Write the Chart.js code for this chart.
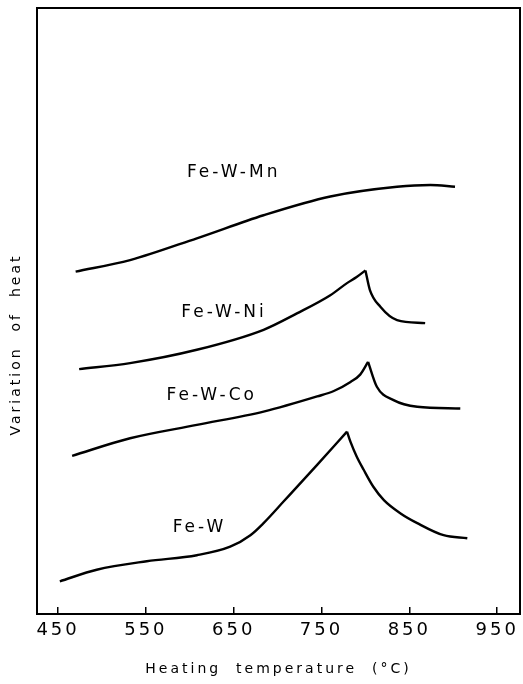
<!DOCTYPE html>
<html>
<head>
<meta charset="utf-8">
<script src="https://cdn.jsdelivr.net/npm/chart.js@4/dist/chart.umd.min.js"></script>
<style>
  html, body { margin: 0; padding: 0; background: #fff; }
  #wrap { width: 523px; height: 684px; }
</style>
</head>
<body>
<div id="wrap"><canvas id="c" width="523" height="684"></canvas></div>
<script>
// X tick labels (heating temperature, °C)
const tickValues = [450, 550, 650, 750, 850, 950];

// Fe-W-Mn (arbitrary "variation of heat" units, 0..100)
const mnX = [470, 532, 608, 684, 760, 836, 874, 902];
const mnY = [56.5, 58.4, 62.0, 65.8, 68.9, 70.5, 70.8, 70.5];

// Fe-W-Ni
const niRiseX = [474, 532, 608, 684, 722, 760, 779, 790, 800];
const niRiseY = [40.4, 41.4, 43.6, 46.9, 49.6, 52.6, 54.6, 55.6, 56.7];
const niFallX = [800, 805, 817, 836, 868];
const niFallY = [56.7, 53.5, 50.7, 48.5, 48.0];

// Fe-W-Co
const coRiseX = [466, 532, 608, 684, 745, 764, 783, 794, 803];
const coRiseY = [26.1, 29.0, 31.2, 33.4, 35.9, 36.8, 38.3, 39.5, 41.6];
const coFallX = [803, 813, 832, 859, 908];
const coFallY = [41.6, 37.5, 35.3, 34.2, 33.9];

// Fe-W
const feRiseX = [452, 494, 551, 608, 646, 669, 684, 707, 745, 779];
const feRiseY = [5.4, 7.3, 8.7, 9.7, 11.1, 13.0, 15.0, 18.6, 24.6, 30.1];
const feFallX = [779, 783, 790, 798, 809, 821, 840, 859, 889, 916];
const feFallY = [30.1, 28.4, 26.0, 23.8, 21.0, 18.8, 16.6, 15.0, 13.0, 12.5];

// Curve labels (placed in data coordinates)
const labelNames = ['Fe-W-Mn', 'Fe-W-Ni', 'Fe-W-Co', 'Fe-W'];
const labelX = [650, 639, 625, 611];
const labelY = [72.9, 49.7, 36.1, 14.2];

const xTitle = 'Heating  temperature  (°C)';
const yTitle = 'Variation  of  heat';

function pts(xs, ys) { return xs.map((x, i) => ({ x: x, y: ys[i] })); }
function ds(xs, ys) {
  return {
    data: pts(xs, ys),
    borderColor: '#000',
    borderWidth: 2.4,
    pointRadius: 0,
    fill: false,
    cubicInterpolationMode: 'monotone'
  };
}

const spacing = {
  id: 'spacing',
  beforeUpdate(chart) { chart.ctx.letterSpacing = '3px'; },
  beforeLayout(chart) { chart.ctx.letterSpacing = '3px'; },
  beforeDraw(chart) { chart.ctx.letterSpacing = '3px'; }
};

const frame = {
  id: 'frame',
  afterDatasetsDraw(chart) {
    const a = chart.chartArea, ctx = chart.ctx;
    ctx.save();
    ctx.strokeStyle = '#000';
    ctx.lineWidth = 2;
    ctx.strokeRect(a.left, a.top, a.right - a.left, a.bottom - a.top);
    ctx.restore();
  }
};

const curveLabels = {
  id: 'curveLabels',
  afterDatasetsDraw(chart) {
    const ctx = chart.ctx, xs = chart.scales.x, ys = chart.scales.y;
    ctx.save();
    ctx.letterSpacing = '3px';
    ctx.fillStyle = '#000';
    ctx.font = '17px "DejaVu Sans"';
    ctx.textAlign = 'center';
    ctx.textBaseline = 'middle';
    labelNames.forEach((t, i) => {
      ctx.fillText(t, xs.getPixelForValue(labelX[i]), ys.getPixelForValue(labelY[i]));
    });
    ctx.restore();
  }
};

new Chart(document.getElementById('c'), {
  type: 'line',
  data: {
    datasets: [
      ds(mnX, mnY),
      ds(niRiseX, niRiseY), ds(niFallX, niFallY),
      ds(coRiseX, coRiseY), ds(coFallX, coFallY),
      ds(feRiseX, feRiseY), ds(feFallX, feFallY)
    ]
  },
  options: {
    responsive: false,
    animation: false,
    devicePixelRatio: 1,
    layout: { padding: { top: 8, right: 3, left: 0, bottom: 0 } },
    plugins: { legend: { display: false }, tooltip: { enabled: false } },
    scales: {
      x: {
        type: 'linear',
        min: 426, max: 976,
        afterBuildTicks(scale) { scale.ticks = tickValues.map(v => ({ value: v })); },
        afterFit(scale) { scale.height = 70; scale.paddingLeft = 0; scale.paddingRight = 0; },
        border: { display: true, color: '#000', width: 2 },
        grid: { display: true, drawOnChartArea: false, drawTicks: true, tickLength: -7, color: '#000', lineWidth: 1.5 },
        ticks: { color: '#000', font: { family: 'DejaVu Sans', size: 18 }, padding: 13, maxRotation: 0, autoSkip: false },
        title: { display: true, text: xTitle, color: '#000', font: { family: 'DejaVu Sans', size: 14 }, padding: { top: 4, bottom: 6 } }
      },
      y: {
        type: 'linear',
        min: 0, max: 100,
        afterFit(scale) { scale.width = 37; },
        border: { display: true, color: '#000', width: 2 },
        grid: { display: false },
        ticks: { display: false },
        title: { display: true, text: yTitle + '         ', color: '#000', font: { family: 'DejaVu Sans', size: 14 }, padding: { top: 8, bottom: 0 } }
      }
    }
  },
  plugins: [spacing, frame, curveLabels]
});
</script>
</body>
</html>
